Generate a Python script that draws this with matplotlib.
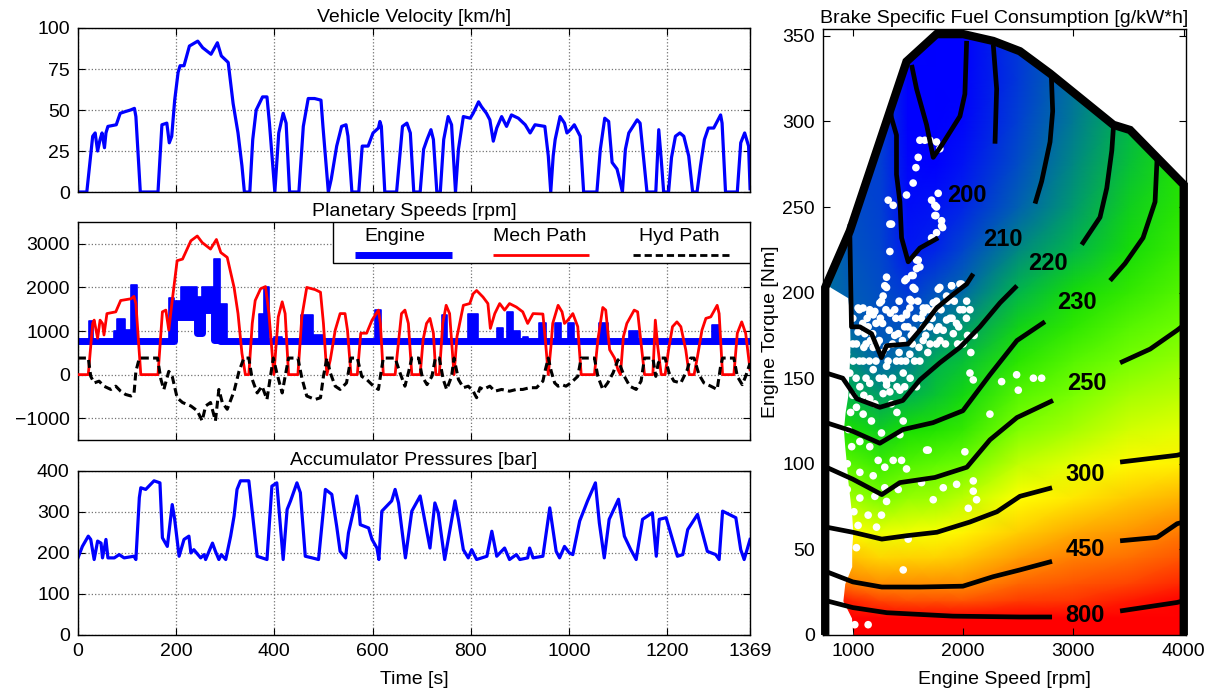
import numpy as np
import matplotlib
matplotlib.use("Agg")
import matplotlib.pyplot as plt
from matplotlib.colors import LinearSegmentedColormap, LogNorm
from matplotlib.patches import Polygon, Rectangle

plt.rcParams['font.family'] = ['Liberation Sans', 'DejaVu Sans']
plt.rcParams['font.size'] = 14

# ---------------- drive cycle traces (time [s], value) ----------------
velocity = [(0,0),(18,0),(30,34),(35,36),(40,25),(45,32),(49,36),(54,27),(57,36),(61,40),(78,41),(86,48),
    (96,49),(107,50),(115,51),(118,46),(127,0),(163,0),(171,41),(181,42),(186,30),(191,34),(197,56),(204,73),
    (208,77),(216,77),(227,89),(244,92),(254,88),(271,84),(284,91),(292,83),(306,79),(316,54),(326,36),(334,16),
    (339,0),(350,0),(356,32),(363,50),(376,58),(385,58),(390,42),(401,0),(409,36),(418,48),(424,42),(431,0),
    (450,0),(459,40),(469,57),(482,57),(495,56),(499,40),(510,0),(516,8),(527,28),(537,40),(546,41),(550,34),
    (558,0),(572,0),(579,28),(591,28),(601,36),(612,39),(615,43),(618,40),(625,0),(649,0),(661,40),(670,42),
    (677,36),(684,0),(697,0),(704,26),(711,32),(719,38),(724,32),(731,0),(738,0),(745,32),(754,46),(761,41),
    (769,0),(775,26),(785,46),(799,45),(805,48),(816,55),(822,52),(832,48),(839,44),(846,31),(853,39),(863,46),
    (873,40),(883,47),(897,45),(911,41),(921,36),(931,41),(951,40),(958,22),(963,0),(968,22),(972,32),(982,46),
    (991,42),(996,36),(1003,38),(1011,41),(1023,34),(1030,0),(1057,0),(1064,26),(1073,45),(1081,43),(1088,18),
    (1098,14),(1103,8),(1109,0),(1115,26),(1122,36),(1139,44),(1145,42),(1159,0),(1177,0),(1183,38),(1188,20),
    (1193,0),(1203,0),(1209,21),(1217,34),(1226,36),(1234,34),(1244,22),(1252,0),(1261,0),(1268,16),(1276,32),
    (1284,39),(1295,39),(1309,47),(1312,42),(1319,0),(1343,0),(1350,30),(1358,36),(1366,28),(1369,2)]

mech_path = [(0,0),(21,0),(30,1174),(33,1250),(40,833),(45,1250),(50,1174),(53,909),(59,1400),(77,1440),
    (87,1700),(108,1740),(114,1795),(118,1630),(128,0),(163,0),(172,1440),(179,1480),(185,1020),(192,1700),
    (202,2614),(213,2650),(230,3070),(243,3180),(253,3030),(270,2880),(282,3100),(291,2800),(304,2690),
    (318,2000),(326,1400),(334,490),(341,0),(348,0),(355,1174),(361,1700),(372,1970),(382,2020),(389,1400),
    (399,0),(408,1325),(416,1670),(422,1400),(429,0),(448,0),(456,1325),(466,2000),(483,1950),(494,1890),
    (500,1174),(507,0),(514,340),(524,1020),(534,1400),(544,1400),(549,1020),(556,0),(569,0),(576,950),
    (588,950),(599,1250),(612,1480),(616,1174),(622,0),(646,0),(659,1400),(666,1480),(673,1174),(680,0),
    (697,0),(703,800),(710,1174),(717,1290),(724,950),(729,0),(736,0),(743,1174),(750,1590),(757,1400),
    (766,0),(772,870),(785,1590),(798,1630),(805,1855),(812,1930),(825,1780),(835,1630),(840,1060),
    (849,1400),(859,1630),(869,1480),(879,1630),(893,1550),(906,1440),(916,1174),(927,1400),(947,1390),
    (952,800),(958,0),(964,720),(967,1174),(978,1590),(986,1440),(991,1174),(998,1250),(1008,1400),
    (1018,1100),(1025,0),(1052,0),(1059,800),(1069,1540),(1075,1480),(1083,570),(1093,380),(1100,110),
    (1105,0),(1111,870),(1118,1174),(1133,1480),(1140,1440),(1154,0),(1171,0),(1176,1250),(1181,640),
    (1188,0),(1196,0),(1203,570),(1211,1100),(1220,1210),(1228,1100),(1238,570),(1245,0),(1255,0),
    (1262,420),(1271,1020),(1279,1290),(1289,1325),(1302,1590),(1306,1400),(1313,0),(1336,0),(1343,950),
    (1352,1210),(1360,950),(1369,110)]

hyd_path = [(0,380),(21,380),(26,-40),(33,-190),(43,-150),(53,-265),(67,-340),(77,-265),(87,-380),(97,-455),
    (108,-490),(114,-455),(118,75),(125,380),(162,380),(169,-110),(175,-340),(185,75),(192,-40),(202,-530),
    (213,-640),(230,-720),(243,-830),(253,-1060),(260,-720),(270,-640),(280,-1060),(287,-340),(294,-640),
    (304,-795),(318,-380),(328,75),(338,380),(348,380),(355,-110),(365,-420),(375,-265),(385,-570),(392,-40),
    (398,380),(405,40),(416,-420),(422,-40),(429,380),(448,380),(456,-75),(466,-490),(483,-570),(494,-530),
    (500,-40),(507,380),(514,40),(524,-265),(534,-340),(547,-190),(556,380),(569,380),(578,-40),(588,-110),
    (602,-265),(612,-340),(616,-40),(622,380),(646,380),(656,40),(666,-265),(673,40),(680,380),(694,380),
    (701,-40),(711,-230),(721,-40),(728,380),(736,380),(744,-110),(751,-340),(761,-40),(766,380),(775,-110),
    (785,-300),(795,-265),(805,-380),(812,-530),(819,-300),(825,-340),(839,-265),(849,-380),(863,-340),
    (879,-380),(893,-340),(906,-340),(920,-300),(934,-300),(947,-150),(952,110),(958,380),(964,75),
    (971,-190),(978,-265),(986,-230),(994,-265),(1004,-190),(1018,-40),(1025,380),(1052,380),(1059,-40),
    (1069,-340),(1079,-190),(1090,40),(1100,340),(1105,190),(1113,-40),(1124,-265),(1137,-340),(1147,-150),
    (1154,380),(1171,380),(1177,-40),(1182,265),(1188,380),(1196,380),(1204,40),(1214,-150),(1228,-190),
    (1241,110),(1248,380),(1255,380),(1265,0),(1275,-190),(1289,-265),(1302,-340),(1309,190),(1313,380),
    (1336,380),(1343,-40),(1353,-230),(1360,-40),(1369,265)]

# engine speed: step segments (start time, low, high)
engine = [(0,760,760),(22,760,1230),(30,760,760),(74,760,1000),(80,760,1270),(95,760,1020),(108,760,2050),
    (120,760,760),(186,760,1750),(196,1320,1700),(209,1320,2000),(243,950,1780),(253,1480,2000),
    (277,800,2650),(290,760,1630),(304,760,760),(368,760,1400),(378,760,2000),(390,760,760),(400,760,870),
    (415,760,760),(455,760,1370),(478,760,900),(500,760,760),(605,760,1480),(617,760,760),(741,760,1370),
    (752,760,760),(795,760,1400),(815,760,760),(853,760,1060),(866,760,760),(873,760,1440),(886,760,1000),
    (900,760,760),(906,760,870),(916,760,760),(940,760,1190),(953,760,760),(971,760,1174),(984,760,760),
    (998,760,1174),(1011,760,760),(1062,760,1174),(1079,760,760),(1123,760,1000),(1140,760,760),
    (1292,760,1140),(1306,760,760),(1369,760,760)]

accumulator = [(0,188),(9,216),(21,241),(26,233),(33,184),(40,229),(47,224),(50,188),(57,233),(61,188),
    (74,188),(84,196),(94,188),(114,192),(118,184),(125,335),(128,359),(138,355),(155,376),(167,371),
    (172,237),(182,216),(192,318),(197,282),(206,192),(216,233),(226,241),(230,200),(236,208),(250,188),
    (257,196),(260,184),(274,224),(280,204),(287,184),(292,196),(301,184),(311,241),(318,290),(324,355),
    (331,376),(348,376),(365,192),(385,184),(395,363),(405,371),(418,184),(426,306),(433,327),(446,371),
    (453,347),(463,192),(477,188),(490,184),(504,355),(517,343),(527,265),(534,204),(545,188),(551,249),
    (568,339),(572,310),(575,269),(592,261),(599,233),(609,212),(613,184),(619,302),(639,327),(646,355),
    (653,322),(667,188),(680,302),(697,339),(717,212),(727,322),(734,298),(747,184),(768,327),(775,282),
    (785,208),(795,188),(802,208),(812,184),(833,192),(843,253),(853,192),(869,212),(879,184),(893,196),
    (900,184),(916,188),(920,212),(927,188),(947,192),(961,310),(974,204),(981,188),(991,216),(1001,200),
    (1008,196),(1022,278),(1038,327),(1054,371),(1062,273),(1072,188),(1082,282),(1101,331),(1113,241),
    (1126,208),(1137,184),(1150,282),(1170,298),(1178,192),(1184,282),(1198,286),(1207,249),(1221,192),
    (1232,196),(1242,257),(1262,294),(1272,249),(1282,204),(1299,196),(1306,184),(1313,302),(1340,286),
    (1350,208),(1357,184),(1369,233)]

time_ticks = [0, 200, 400, 600, 800, 1000, 1200, 1369]

# ---------------- engine BSFC map ----------------
map_rpm = [750, 1000, 1250, 1500, 1750, 2000, 2500, 3000, 3500, 4000]
map_tq = [0, 10, 20, 30, 45, 60, 80, 100, 120, 140, 160, 180, 200, 225, 250, 275, 300, 325, 355]
bsfc = [
    [1000, 1000, 1000, 1000, 1000, 1000, 1000, 1000, 1000, 1000],
    [900, 900, 870, 860, 850, 830, 800, 820, 900, 900],
    [800, 680, 600, 570, 570, 560, 620, 640, 720, 800],
    [560, 465, 440, 440, 440, 440, 520, 560, 600, 680],
    [390, 370, 345, 350, 350, 365, 420, 470, 500, 560],
    [315, 300, 292, 295, 298, 310, 355, 400, 430, 480],
    [272, 265, 253, 262, 265, 275, 300, 325, 360, 390],
    [249, 244, 238, 243, 246, 249, 277, 290, 305, 315],
    [233, 230, 226, 230, 232, 236, 255, 268, 283, 290],
    [225, 220, 218, 220, 224, 228, 244, 253, 268, 275],
    [218, 215, 210, 213, 220, 223, 234, 244, 252, 262],
    [214, 210, 208, 208, 212, 217, 227, 235, 244, 250],
    [212, 209, 207, 204, 208, 211, 221, 229, 236, 244],
    [212, 208, 206, 199, 201, 206, 215, 221, 229, 238],
    [211, 207, 205, 197, 198, 201, 210, 217, 226, 234],
    [211, 206, 205, 196, 195, 198, 207, 215, 223, 232],
    [211, 206, 205, 195, 194, 196, 205, 213, 221, 231],
    [211, 206, 205, 195, 193, 194, 204, 212, 220, 230],
    [211, 206, 205, 196, 193, 194, 204, 212, 220, 230]]

# max torque curve (rpm, Nm)
max_torque = [(750,0),(750,203),(973,236),(1487,335),(1759,351),(2001,351),(2273,347),(2515,341),
    (2788,328),(3362,298),(3513,295),(4000,263),(4000,0)]

# white idle band on the left (torque, edge rpm)
idle_edge = [(0,1000),(10,988),(20,910),(30,927),(40,990),(50,990),(60,1000),(70,990),(80,973),(90,955),
    (100,942),(110,927),(120,915),(130,930),(140,955),(150,962),(160,970),(170,975),(180,972),(190,965),
    (197,955),(203,800),(205,760)]

# contour pieces [(rpm, Nm), ...]
c195 = [(1533,333),(1578,319),(1669,298),(1729,279),(1805,286),(1971,303),(2016,316),(2032,347)]
c200a = [(2273,345),(2304,319),(2289,287)]
c200b = [(1774,232),(1608,226),(1502,218),(1442,232),(1427,253),(1396,269),(1396,292),(1351,302),(1340,308)]
c210a = [(2800,326),(2812,306),(2788,288),(2712,265),(2652,252)]
c210b = [(2092,211),(2032,205),(1910,199),(1760,191),(1608,178),(1502,170),(1306,169),(1260,162),
    (1170,176),(1064,180),(988,180),(973,234),(975,240)]
c220a = [(3370,298),(3362,296),(3348,283),(3302,261),(3241,244),(3075,228)]
c220b = [(2488,204),(2334,194),(2152,180),(1971,168),(1789,159),(1608,149),(1454,137),(1245,133),
    (1036,138),(909,150),(760,153)]
c230a = [(3758,278),(3740,253),(3631,232),(3468,217),(3332,207)]
c230b = [(2742,183),(2488,172),(2243,152),(1998,131),(1726,124),(1454,120),(1245,112),(1000,119),(760,124)]
c250a = [(4000,181),(3940,178),(3695,167),(3423,159)]
c250b = [(2815,137),(2488,127),(2243,114),(2034,98),(1744,92),(1426,89),(1263,82),(1000,91),(760,98)]
c300a = [(4000,106),(3940,105),(3423,101)]
c300b = [(2806,86),(2515,81),(2307,72),(2062,66),(1762,60),(1490,58),(1263,56),(1000,60),(760,63)]
c450a = [(4000,66),(3940,65),(3758,57),(3423,55)]
c450b = [(2806,43),(2515,38),(2270,34),(1998,28.5),(1608,28),(1263,28),(1000,31),(760,37)]
c800a = [(4000,20),(3940,19),(3423,14)]
c800b = [(2806,10.5),(2515,10.5),(1907,11),(1309,13),(1000,16),(760,20)]

contour_labels = [("200",2032,257),("210",2364,231),("220",2772,217),("230",3033,194),
    ("250",3121,147),("300",3106,94),("450",3106,50),("800",3106,11.5)]

op_points = [(1608,289),(1653,289),(1699,289),(1759,288),(1789,284),(1593,279),(1572,273),(1547,264),
    (1487,257),(1321,254),(1366,251),(1336,240),(1714,254),(1774,258),(1759,250),(1753,245),(1805,242),
    (1814,238),(1759,235),(1714,232),(1336,224),(1578,219),(1608,215),(1547,210),(1306,209),(1290,204),
    (1487,208),(1547,203),(1275,198),(1245,194),(1200,189),(1154,188),(1093,191),(1048,191),(1533,195),
    (1487,187),(1639,191),(1729,194),(1789,203),(1896,204),(1971,205),
    (1351,240),(1744,245),(1744,251),(1805,239),(1593,219),(1578,214),(1533,210),(1472,207),(1306,203),
    (1260,195),(1563,202),(1517,196),(1517,191),(1487,188),(1442,185),(1774,202),(1895,204),(1986,205),
    (1850,198),(1759,195),(1669,191),(1638,188),(1154,190),(1185,187),(1139,180),(1048,177),(1109,176),
    (1033,170),(1185,168),(1306,168),(1412,176),(1548,178),(1699,180),(1850,184),(1971,190),(2032,195),
    (2062,190),(1911,176),(1790,172),(1638,172),(1517,164),(1396,160),(1306,157),(1185,155),(1154,147),
    (1306,148),(1457,153),(1608,160),(1759,170),(1578,145),(1427,143),(1275,141),(1064,145),(973,153),
    (882,160),(912,172),(852,180),(822,195),(882,190),(943,164),(1003,160),(1094,160),(2062,153),
    (2349,148),(822,145),(912,139),
    (1000,185),(1000,170),(1030,150),(1060,160),(1060,190),(1090,182),(1120,170),(1120,150),(1150,160),
    (1180,176),(1210,182),(1210,160),(1240,150),(1240,172),(1270,165),(1270,182),(1300,190),(1330,178),
    (1360,170),(1360,150),(1390,185),(1420,165),(1450,172),(1480,160),(1500,180),(1540,170),(1570,185),
    (1600,168),(1640,180),(1680,165),(1720,185),(1760,178),(1800,190),(1840,170),(1880,185),(1920,195),
    (1960,180),(2000,170),(2030,185),(2070,165),(1100,140),(1200,135),(1350,135),(1400,130),
    (1320,160),(1380,175),(1440,160),(1470,180),(1530,175),(1560,160),(1620,185),(1660,175),(1700,170),
    (1740,190),(1780,180),(1820,178),(1860,195),(1900,185),(1940,182),(2000,190),(2040,175),(1100,168),
    (1130,185),(1160,172),(1220,170),(1250,185),(1280,150),(1340,188),(1400,145),(1470,145),(1520,150),
    (1950,170),(2100,175),(1680,190),(1590,195),(1420,195),(1380,190),
    (2092,149),(2485,152),(2500,143),(2637,150),(2712,150),(2243,129),(1669,108),(2016,107),(1623,89),
    (1820,86),(1941,88),(2092,90),(2092,84),(2122,79),(1729,79),(2047,74),(1502,56),(1457,38),(1033,51),
    (1139,6),(1018,6),
    (1306,146),(1336,142),(1154,138),(1033,133),(1094,129),(1169,125),(1457,125),(1260,118),(1427,117),
    (1064,113),(1154,110),(1684,108),(1230,102),(1366,102),(1442,102),(1487,97),(1290,98),(1064,95),
    (1185,93),(1290,86),(1412,85),(1064,80),(1200,81),(1306,78),(1139,70),(1260,70),(1048,64),(1215,63),
    (960,120),(990,110),(950,100),(1000,140),(980,130),(950,85),(1010,72),(930,60)]

cmap_levels = [195, 200, 205, 210, 215, 220, 230, 250, 300, 450, 800]
cmap_colors = ['#0000ff', '#0020ec', '#0040d2', '#0062b0', '#008a80', '#00b250',
               '#18e000', '#70ff00', '#ffff00', '#ff8800', '#ff0000']

# ---------------- figure ----------------
fig = plt.figure(figsize=(12.22, 7.0), dpi=100)
ax1 = fig.add_axes([0.0638, 0.7257, 0.5500, 0.2343])
ax2 = fig.add_axes([0.0638, 0.3714, 0.5500, 0.3114])
ax3 = fig.add_axes([0.0638, 0.0929, 0.5500, 0.2343])
ax4 = fig.add_axes([0.6735, 0.0929, 0.2970, 0.8657])


def style(ax, grid=True):
    ax.tick_params(direction='in', top=True, right=True, length=5, labelsize=14, pad=6)
    if grid:
        ax.grid(True, linestyle=':', color='0.45', linewidth=0.9)
    for s in ax.spines.values():
        s.set_linewidth(1.0)


t, v = np.array(velocity).T
ax1.plot(t, v, color='#0000ff', lw=2.3)
ax1.set_ylim(0, 100)
ax1.set_yticks([0, 25, 50, 75, 100])
ax1.set_title('Vehicle Velocity [km/h]', fontsize=14, pad=4)

et, elo, ehi = np.array(engine).T
ax2.fill_between(et, elo, ehi, step='post', color='#0000ff', lw=1.2, zorder=2)
ax2.step(et, elo, where='post', color='#0000ff', lw=5, zorder=2)
t, v = np.array(mech_path).T
ax2.plot(t, v, color='#ff0000', lw=2.0, zorder=3)
t, v = np.array(hyd_path).T
ax2.plot(t, v, color='black', lw=2.2, dashes=(2.6, 1.4), zorder=4)
ax2.set_ylim(-1500, 3500)
ax2.set_yticks([-1000, 0, 1000, 2000, 3000])
ax2.set_title('Planetary Speeds [rpm]', fontsize=14, pad=4)

# legend box with labels above the line keys
ax2.add_patch(Rectangle((0.38, 0.812), 0.62, 0.188, transform=ax2.transAxes,
                        facecolor='white', edgecolor='black', lw=1.0, zorder=6))
keys = [('Engine', 0.472, 0.412, 0.556, dict(color='#0000ff', lw=5)),
        ('Mech Path', 0.687, 0.617, 0.761, dict(color='#ff0000', lw=2)),
        ('Hyd Path', 0.895, 0.826, 0.969, dict(color='black', lw=2, dashes=(2.6, 1.4)))]
for name, xc, x0, x1, kw in keys:
    ax2.text(xc, 0.935, name, transform=ax2.transAxes, ha='center', va='center', fontsize=14, zorder=7)
    ax2.plot([x0, x1], [0.849, 0.849], transform=ax2.transAxes, zorder=7, clip_on=False,
             solid_capstyle='butt', **kw)

t, v = np.array(accumulator).T
ax3.plot(t, v, color='#0000ff', lw=2.3)
ax3.set_ylim(0, 400)
ax3.set_yticks([0, 100, 200, 300, 400])
ax3.set_title('Accumulator Pressures [bar]', fontsize=14, pad=4)
ax3.set_xlabel('Time [s]', fontsize=14, labelpad=8)

for ax in (ax1, ax2, ax3):
    ax.set_xlim(0, 1369)
    ax.set_xticks(time_ticks)
    style(ax)
ax1.tick_params(labelbottom=False)
ax2.tick_params(labelbottom=False)

# BSFC map
pos = (np.log(cmap_levels) - np.log(195)) / (np.log(800) - np.log(195))
cmap = LinearSegmentedColormap.from_list('bsfc', list(zip(pos, cmap_colors)), N=1024)
X, Y = np.meshgrid(map_rpm, map_tq)
mesh = ax4.pcolormesh(X, Y, np.array(bsfc, float), cmap=cmap, norm=LogNorm(195, 800),
                      shading='gouraud', zorder=1)
mr, mt = np.array(max_torque).T
clip = Polygon(np.column_stack([mr, mt]), closed=True, transform=ax4.transData)
mesh.set_clip_path(clip)

itq, irpm = np.array(idle_edge).T
ax4.fill_betweenx(itq, mr[0], irpm, color='white', lw=0, zorder=2)

orpm, otq = np.array(op_points).T
ax4.scatter(orpm, otq, s=30, c='white', edgecolors='none', zorder=3)

for piece in (c195, c200a, c200b, c210a, c210b, c220a, c220b, c230a, c230b,
              c250a, c250b, c300a, c300b, c450a, c450b, c800a, c800b):
    r, q = np.array(piece).T
    ax4.plot(r, q, color='black', lw=3.4, solid_capstyle='butt', zorder=4)

for txt, r, q in contour_labels:
    ax4.text(r, q, txt, ha='center', va='center', fontsize=17, fontweight='bold', zorder=6)

ax4.plot(mr, mt, color='black', lw=6, solid_capstyle='butt', solid_joinstyle='miter',
         zorder=5, clip_on=False)

ax4.set_xlim(730, 4020)
ax4.set_ylim(0, 354)
ax4.set_xticks([1000, 2000, 3000, 4000])
ax4.set_yticks(range(0, 351, 50))
style(ax4, grid=False)
ax4.set_title('Brake Specific Fuel Consumption [g/kW*h]', fontsize=14, pad=4)
ax4.set_xlabel('Engine Speed [rpm]', fontsize=14, labelpad=8)
ax4.set_ylabel('Engine Torque [Nm]', fontsize=14, labelpad=2)

fig.savefig('out.png', dpi=100, facecolor='white')
